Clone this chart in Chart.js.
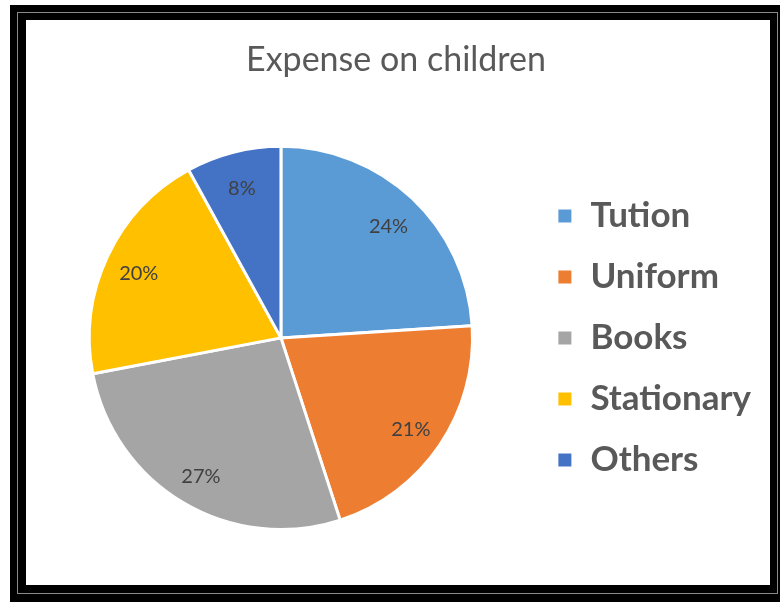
<!DOCTYPE html>
<html>
<head>
<meta charset="utf-8">
<script src="https://cdn.jsdelivr.net/npm/chart.js@4/dist/chart.umd.min.js"></script>
<style>
  html, body { margin: 0; padding: 0; background: #fff; }
  #frame { position: absolute; left: 10px; top: 5px; width: 770px; height: 597px; background: #000; }
  #rule { position: absolute; left: 17px; top: 12px; width: 759px; height: 580px; border: 1px solid #8a8a8a; }
  #card { position: absolute; left: 26px; top: 20px; width: 744px; height: 565px; background: #fff; }
  canvas { display: block; }
</style>
</head>
<body>
<div id="frame"></div>
<div id="rule"></div>
<div id="card"><canvas id="pie" width="744" height="565"></canvas></div>
<script>
const categories = ['Tution', 'Uniform', 'Books', 'Stationary', 'Others'];
const shares = [24, 21, 27, 20, 8];
const colors = ['#5B9BD5', '#ED7D31', '#A5A5A5', '#FFC000', '#4472C4'];

const FONT = 'Lato, "Open Sans", sans-serif';

// percent labels inside each slice
const sliceLabels = {
    id: 'sliceLabels',
    afterDatasetsDraw(chart) {
        const ctx = chart.ctx;
        const meta = chart.getDatasetMeta(0);
        ctx.save();
        ctx.font = `20px ${FONT}`;
        ctx.fillStyle = '#404040';
        ctx.textAlign = 'center';
        ctx.textBaseline = 'middle';
        meta.data.forEach((arc, i) => {
            const { x, y, startAngle, endAngle, outerRadius } = arc.getProps(['x', 'y', 'startAngle', 'endAngle', 'outerRadius'], true);
            const mid = (startAngle + endAngle) / 2;
            const r = outerRadius * 0.82;
            ctx.fillText(shares[i] + '%', x + Math.cos(mid) * r, y + Math.sin(mid) * r + 3);
        });
        ctx.restore();
    }
};

new Chart(document.getElementById('pie'), {
    type: 'pie',
    data: {
        labels: categories,
        datasets: [{
            data: shares,
            backgroundColor: colors,
            borderColor: '#fff',
            borderWidth: 3
        }]
    },
    options: {
        responsive: false,
        animation: false,
        layout: { padding: { left: 5, right: 9, top: 0, bottom: 54 } },
        plugins: {
            title: {
                display: true,
                text: 'Expense on children',
                color: '#595959',
                font: { family: FONT, size: 34, weight: 'normal' },
                padding: { top: 20, bottom: 64 }
            },
            legend: {
                position: 'right',
                fullSize: false,
                labels: {
                    color: '#595959',
                    font: { family: FONT, size: 35, weight: 'bold' },
                    boxWidth: 16,
                    boxHeight: 16,
                    padding: 26
                }
            },
            tooltip: { enabled: false }
        }
    },
    plugins: [sliceLabels]
});
</script>
</body>
</html>
